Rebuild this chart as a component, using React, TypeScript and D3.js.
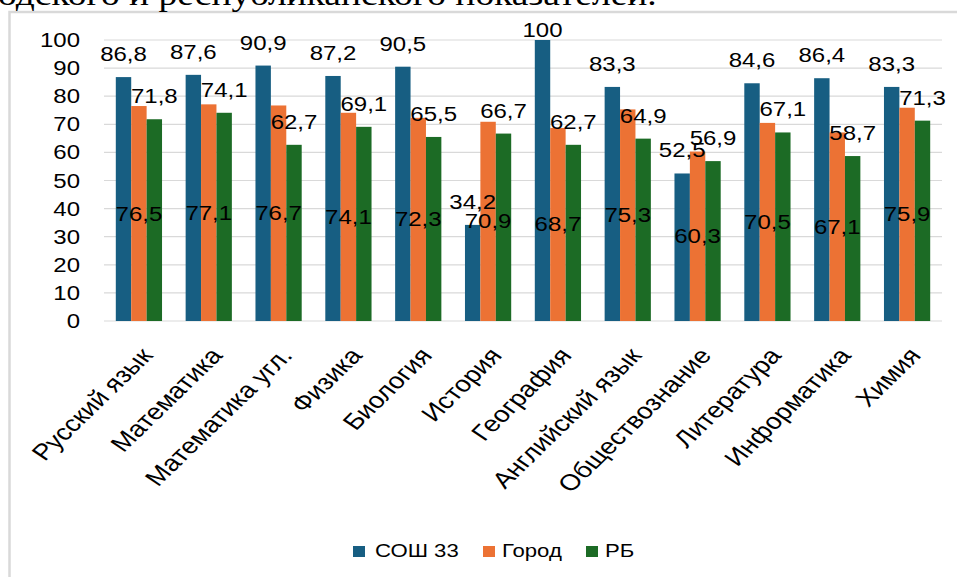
import React from "react";
import * as d3 from "d3";

const categories = [
  "Русский язык",
  "Математика",
  "Математика угл.",
  "Физика",
  "Биология",
  "История",
  "География",
  "Английский язык",
  "Обществознание",
  "Литература",
  "Информатика",
  "Химия",
];
const seriesNames = ["СОШ 33", "Город", "РБ"];
const school = [86.8, 87.6, 90.9, 87.2, 90.5, 34.2, 100, 83.3, 52.5, 84.6, 86.4, 83.3];
const city = [76.5, 77.1, 76.7, 74.1, 72.3, 70.9, 68.7, 75.3, 60.3, 70.5, 67.1, 75.9];
const region = [71.8, 74.1, 62.7, 69.1, 65.5, 66.7, 62.7, 64.9, 56.9, 67.1, 58.7, 71.3];
const yTicks = [0, 10, 20, 30, 40, 50, 60, 70, 80, 90, 100];
const headerText = "одского и республиканского показателей.";

const colors = ["#175E82", "#EC7234", "#1C6B25"];
const W = 957;
const H = 577;
const SX = 1.23; // horizontal stretch of the scanned picture
const FONT = "'Liberation Sans', Arial, sans-serif";

const fmt = (v: number) => String(v).replace(".", ",");

export default function App() {
  const left = 104 / SX;
  const right = 942 / SX;
  const y = d3.scaleLinear().domain([0, 100]).range([321, 40]);
  const x0 = d3
    .scaleBand<string>()
    .domain(categories)
    .range([left, right])
    .paddingInner(0.338)
    .paddingOuter(0.169);
  const x1 = d3.scaleBand<string>().domain(seriesNames).range([0, x0.bandwidth()]);
  const data = [school, city, region];
  const topLimit = y(100) - 3;

  return (
    <svg
      width={W}
      height={H}
      style={{ position: "absolute", left: 0, top: 0, background: "#fff" }}
    >
      <rect x={0} y={0} width={W} height={H} fill="#fff" />
      <rect x={9.5} y={12} width={W + 20} height={H + 20} fill="#fff" stroke="#d9d9d9" strokeWidth={2.5} />
      <g transform={`scale(${SX},1)`}>
        <text
          x={-2 / SX}
          y={5}
          fontFamily="'Liberation Serif', 'Times New Roman', serif"
          fontSize={30.5}
          fill="#000"
        >
          {headerText}
        </text>
        {yTicks.map((t) => (
          <g key={t}>
            <line x1={left} x2={right} y1={y(t)} y2={y(t)} stroke="#d9d9d9" strokeWidth={1.2} />
            <text
              x={80 / SX}
              y={y(t)}
              dy="0.36em"
              textAnchor="end"
              fontFamily={FONT}
              fontSize={19.5}
              fill="#000"
            >
              {t}
            </text>
          </g>
        ))}
        {categories.map((c, i) => (
          <g key={c} transform={`translate(${x0(c)},0)`}>
            {seriesNames.map((s, k) => (
              <rect
                key={s}
                x={x1(s)}
                y={y(data[k][i])}
                width={x1.bandwidth()}
                height={y(0) - y(data[k][i])}
                fill={colors[k]}
              />
            ))}
          </g>
        ))}
        {categories.map((c, i) => {
          const bx = x0(c)!;
          const cx = (s: string) => bx + x1(s)! + x1.bandwidth() / 2;
          return (
            <g key={"l" + c} fontFamily={FONT} fontSize={19.5} fill="#000" textAnchor="middle">
              <text x={cx(seriesNames[0])} y={Math.max(y(school[i]) - 16, topLimit)}>
                {fmt(school[i])}
              </text>
              <text x={cx(seriesNames[1])} y={y(city[i] / 2)} dy="0.36em">
                {fmt(city[i])}
              </text>
              <text x={cx(seriesNames[2])} y={Math.max(y(region[i]) - 16, topLimit)}>
                {fmt(region[i])}
              </text>
            </g>
          );
        })}
        {categories.map((c) => {
          const ax = x0(c)! + x0.bandwidth() / 2 + 6;
          const ay = 351;
          return (
            <text
              key={"c" + c}
              transform={`translate(${ax},${ay}) rotate(-50)`}
              textAnchor="end"
              dy="0.36em"
              fontFamily={FONT}
              fontSize={22.5}
              fill="#000"
            >
              {c}
            </text>
          );
        })}
        {(() => {
          const sq = [353, 483, 586];
          const tx = [375, 502, 605];
          return seriesNames.map((s, k) => (
            <g key={"lg" + s}>
              <rect x={sq[k] / SX} y={546} width={12 / SX} height={11} fill={colors[k]} />
              <text x={tx[k] / SX} y={557.5} fontFamily={FONT} fontSize={18} fill="#000">
                {s}
              </text>
            </g>
          ));
        })()}
      </g>
    </svg>
  );
}
